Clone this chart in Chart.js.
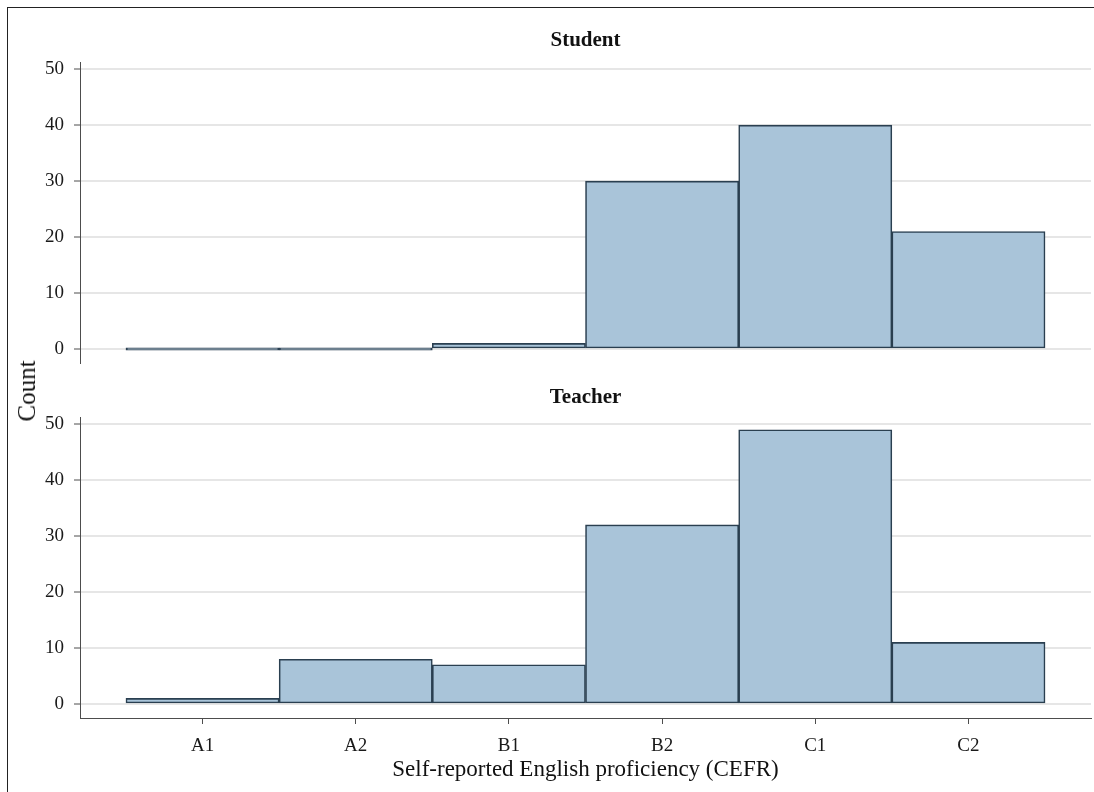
<!DOCTYPE html>
<html>
<head>
<meta charset="utf-8">
<title>Self-reported English proficiency</title>
<script src="https://cdn.jsdelivr.net/npm/chart.js@4.4.0/dist/chart.umd.min.js"></script>
<style>
  html, body { margin: 0; padding: 0; background: #fff; }
  #fig { position: relative; width: 1094px; height: 792px; overflow: hidden; background: #fff; }
  #frame { position: absolute; left: 7px; top: 7px; width: 1100px; height: 800px;
           border-left: 1px solid #222; border-top: 1px solid #222; }
  canvas { position: absolute; left: 0; }
  #studentCanvas { top: 0; }
  #teacherCanvas { top: 370px; }
  #countLabel { position: absolute; left: 27px; top: 391px; transform: translate(-50%, -50%) rotate(-90deg);
                font: 25px 'Liberation Serif', 'Times New Roman', serif; color: #111; white-space: nowrap; }
</style>
</head>
<body>
<div id="fig">
  <div id="frame"></div>
  <canvas id="studentCanvas" width="1094" height="370"></canvas>
  <canvas id="teacherCanvas" width="1094" height="422"></canvas>
  <div id="countLabel">Count</div>
</div>
<script>
// CEFR levels on the x axis
const levels = ['A1', 'A2', 'B1', 'B2', 'C1', 'C2'];
// Respondent counts per level
const studentCounts = [0, 0, 1, 30, 40, 21];
const teacherCounts = [1, 8, 7, 32, 49, 11];
// Count axis tick values
const countTicks = [0, 10, 20, 30, 40, 50];

const SERIF = "'Liberation Serif', 'Times New Roman', serif";
const FILL = '#a9c4d9';
const EDGE = '#2a3f50';
const AXIS = '#4d4d4d';
const GRID = '#e6e6e6';

function toPoints(values) {
  return values.map((v, i) => ({ x: i, y: v }));
}

function makePanel(canvasId, title, values, showX, titlePad, bottomPad) {
  const xScale = {
    type: 'linear',
    min: -0.8,
    max: 5.8,
    offset: false,
    display: showX,
    afterBuildTicks: s => { s.ticks = levels.map((_, i) => ({ value: i })); },
    grid: { offset: false, drawOnChartArea: false, drawTicks: true, tickLength: 6, color: AXIS, tickColor: AXIS, lineWidth: 1 },
    border: { display: true, color: AXIS, width: 1 },
    ticks: {
      autoSkip: false, maxRotation: 0, padding: 11, color: '#1a1a1a',
      font: { family: SERIF, size: 19 },
      callback: v => levels[v]
    },
    title: {
      display: showX,
      text: 'Self-reported English proficiency (CEFR)',
      color: '#111',
      font: { family: SERIF, size: 23 },
      padding: { top: 0, bottom: 8 }
    }
  };
  if (showX) xScale.afterFit = s => { s.height = 74; };

  return new Chart(document.getElementById(canvasId), {
    type: 'bar',
    data: {
      datasets: [{
        data: toPoints(values),
        backgroundColor: FILL,
        borderColor: EDGE,
        borderWidth: 1.6,
        borderSkipped: false,
        minBarLength: 2.5,
        barPercentage: 1,
        categoryPercentage: 1
      }]
    },
    options: {
      responsive: false,
      animation: false,
      devicePixelRatio: 1,
      layout: { padding: { left: 0, right: 3, top: 0, bottom: bottomPad } },
      plugins: {
        legend: { display: false },
        tooltip: { enabled: false },
        title: {
          display: true,
          text: title,
          fullSize: false,
          color: '#111',
          font: { family: SERIF, size: 21, weight: 'bold', lineHeight: 1.2 },
          padding: titlePad
        }
      },
      scales: {
        x: xScale,
        y: {
          min: -2.5,
          max: 51.25,
          afterBuildTicks: s => { s.ticks = countTicks.map(v => ({ value: v })); },
          afterFit: s => { s.width = 80; s.paddingTop = 0; s.paddingBottom = 0; },
          grid: { color: GRID, lineWidth: 2, drawTicks: true, tickLength: 6, tickColor: AXIS, tickWidth: 1 },
          border: { display: true, color: AXIS, width: 1 },
          ticks: { padding: 10, color: '#1a1a1a', font: { family: SERIF, size: 19 } }
        }
      }
    }
  });
}

makePanel('studentCanvas', 'Student', studentCounts, false, { top: 28, bottom: 9 }, 7);
makePanel('teacherCanvas', 'Teacher', teacherCounts, true, { top: 15, bottom: 7 }, 0);
</script>
</body>
</html>
